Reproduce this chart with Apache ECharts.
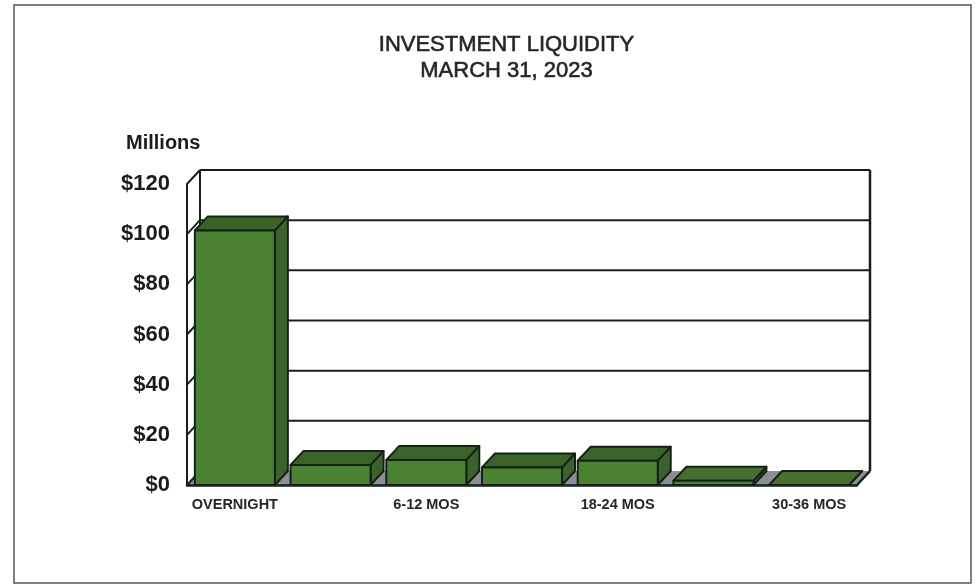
<!DOCTYPE html>
<html>
<head>
<meta charset="utf-8">
<style>html,body{margin:0;padding:0;background:#fff}#c{width:975px;height:584px}</style>
<script src="https://cdn.jsdelivr.net/npm/echarts@6/dist/echarts.min.js"></script>
</head>
<body>
<div id="c"></div>
<script>
var titleText = 'INVESTMENT LIQUIDITY\nMARCH 31, 2023';
var unitLabel = 'Millions';
var categories = ['OVERNIGHT','0-6 MOS','6-12 MOS','12-18 MOS','18-24 MOS','24-30 MOS','30-36 MOS'];
var values = [101.5, 8, 10, 7, 9.7, 1.7, 0];
var ticks = [0, 20, 40, 60, 80, 100, 120];

var DX = 13, DY = -14;
var INK = '#16201a';
var FRONT = '#4b8232', TOP = '#3a6329', TOP_LOW = '#476f30', SIDE = '#3a6229', FLOOR = '#8d8e91';

function poly(pts, fill, lw) {
  return {type:'polygon', shape:{points:pts},
    style:{fill:fill, stroke:lw===0?null:INK, lineWidth:lw===undefined?2:lw, lineJoin:'round'}};
}
function seg(a, b, lw) {
  return {type:'line', shape:{x1:a[0],y1:a[1],x2:b[0],y2:b[1]},
    style:{stroke:INK, lineWidth:lw||2, fill:null}};
}

function renderWall(params, api) {
  var v = api.value(0);
  var band = api.size([1,0])[0];
  var p0 = api.coord([0, v]);
  var p1 = api.coord([categories.length-1, v]);
  var xl = p0[0]-band/2, xr = p1[0]+band/2, y = p0[1];
  var kids = [];
  if (v === 0) {
    kids.push(poly([[xl,y],[xr,y],[xr+DX,y+DY],[xl+DX,y+DY]], FLOOR, 0));
    kids.push(seg([xl,y],[xl+DX,y+DY]));
    kids.push(seg([xr,y],[xr+DX,y+DY],2.5));
  } else {
    kids.push(seg([xl,y],[xl+DX,y+DY]));
    kids.push(seg([xl+DX,y+DY],[xr+DX,y+DY],2));
    var b = api.coord([0,0])[1];
    if (v === ticks[ticks.length-1]) {
      kids.push(seg([xl+DX,y+DY],[xl+DX,b+DY]));
      kids.push(seg([xr+DX,y+DY],[xr+DX,b+DY],2.5));
    }
  }
  return {type:'group', children:kids};
}

function renderBar(params, api) {
  var val = api.value(1);
  var c = api.coord([api.value(0), val]);
  var base = api.coord([api.value(0), 0]);
  var w = api.size([1,0])[0]*0.836;
  var l = c[0]-w/2, r = c[0]+w/2, t = c[1], b = base[1];
  return {type:'group', children:[
    poly([[r,t],[r+DX,t+DY],[r+DX,b+DY],[r,b]], SIDE),
    poly([[l,t],[r,t],[r+DX,t+DY],[l+DX,t+DY]], val < 5 ? TOP_LOW : TOP),
    poly([[l,t],[r,t],[r,b],[l,b]], FRONT)
  ]};
}

var chart = echarts.init(document.getElementById('c'), null, {renderer:'canvas'});
chart.setOption({
  animation:false,
  backgroundColor:'#fff',
  title:[
    {text:titleText, left:501.5, top:27, textAlign:'center',
     textStyle:{fontFamily:'Liberation Sans', fontSize:22, fontWeight:'normal', color:'#26262a', lineHeight:26,
       textBorderColor:'#26262a', textBorderWidth:0.6}},
    {text:unitLabel, left:121, top:128,
     textStyle:{fontFamily:'Liberation Sans', fontSize:20, fontWeight:'bold', color:'#1c1c1e'}}
  ],
  grid:{left:187, right:118, top:184, bottom:99, containLabel:false},
  xAxis:{type:'category', data:categories, z:5,
    axisLine:{show:true, lineStyle:{color:INK, width:2.5}},
    axisTick:{show:false},
    axisLabel:{interval:1, margin:12, fontFamily:'Liberation Sans', fontSize:14.5, fontWeight:'bold', color:'#26262a'}},
  yAxis:{type:'value', min:0, max:120, interval:20, z:5,
    axisLine:{show:true, lineStyle:{color:INK, width:2}},
    axisTick:{show:false},
    splitLine:{show:false},
    axisLabel:{margin:17, formatter:'${value}', fontFamily:'Liberation Sans', fontSize:22, fontWeight:'bold', color:'#1c1c1e'}},
  graphic:[{type:'rect', silent:true, z:-1, shape:{x:14,y:5,width:957,height:578},
    style:{fill:null, stroke:'#55565a', lineWidth:1.5}}],
  series:[
    {type:'custom', name:'wall', clip:false, z:1, silent:true,
     renderItem:renderWall, data:ticks.map(function(t){return [t];}), encode:{y:0}},
    {type:'custom', name:'Investment', clip:false, z:2, silent:true,
     renderItem:renderBar, data:values.map(function(v,i){return [i,v];}), encode:{x:0,y:1}}
  ]
});
</script>
</body>
</html>
